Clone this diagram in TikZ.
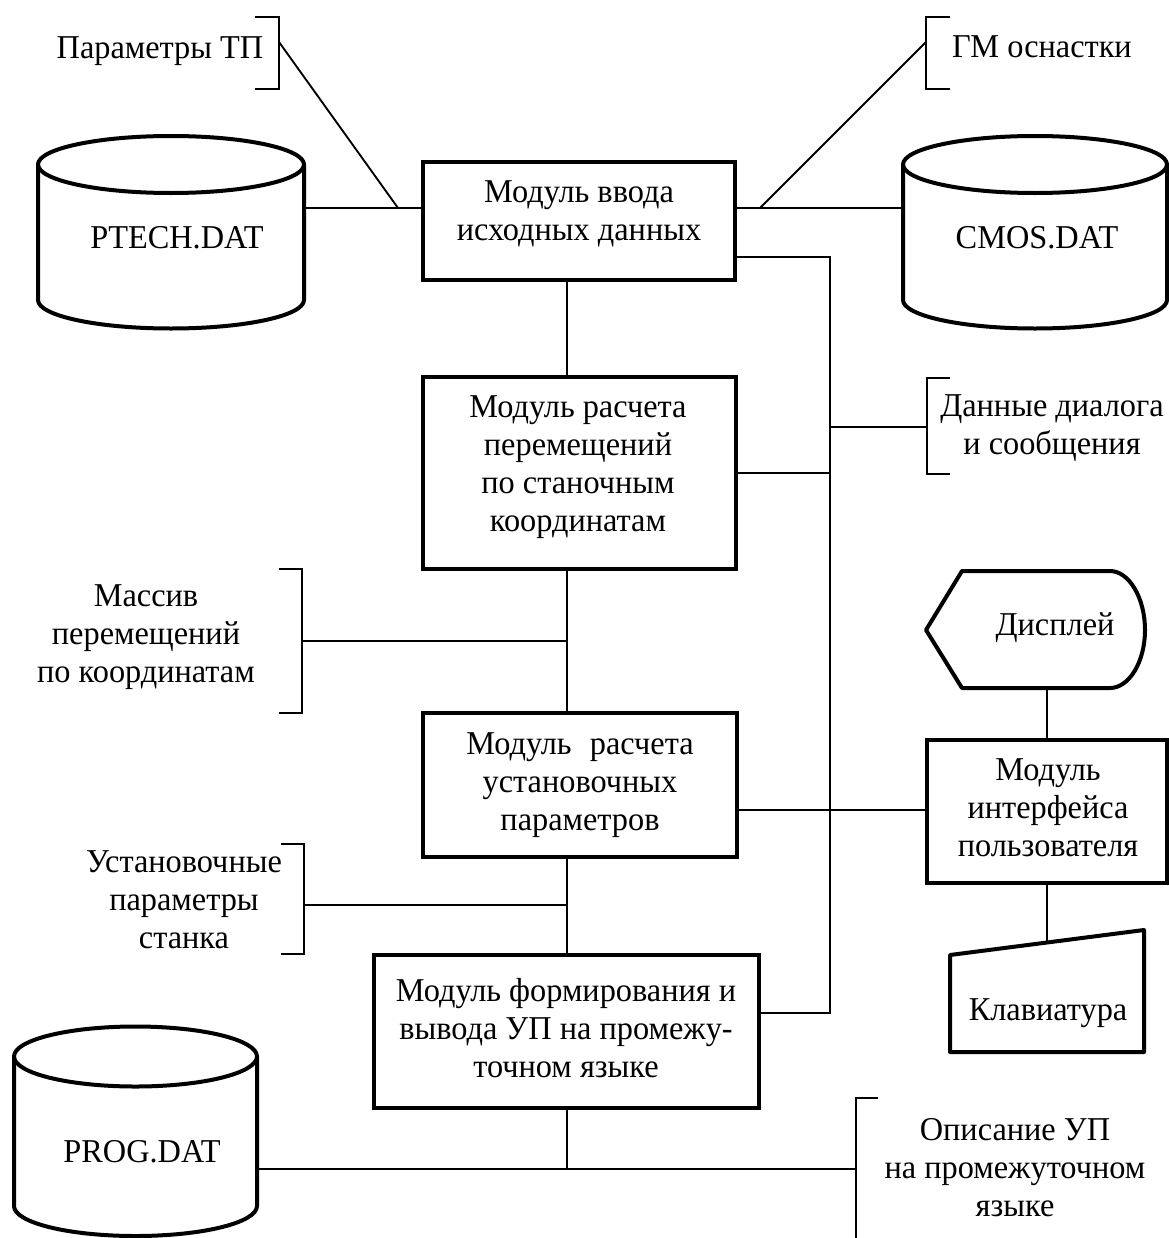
\documentclass[tikz,border=0pt]{standalone}
\usepackage{fontspec}
\setmainfont[FakeStretch=0.97]{Liberation Serif}
\begin{document}
\begin{tikzpicture}[x=0.75pt,y=-0.75pt,
  box/.style={draw,line width=3pt,inner sep=0pt},
  outline/.style={line width=3pt,line join=round},
  link/.style={line width=1.4pt},
  brk/.style={line width=1.6pt},
  lbl/.style={align=center,inner sep=0pt,font=\fontsize{25}{28.5}\selectfont}]
\useasboundingbox (0,0) rectangle (1169,1238);

% ---- processing modules ----
\node[box,minimum width=234pt,minimum height=88.5pt]   (b1) at (579,221)    {};
\node[box,minimum width=234.75pt,minimum height=144pt] (b2) at (579.5,473)  {};
\node[box,minimum width=235.5pt,minimum height=108pt]  (b3) at (580,785)    {};
\node[box,minimum width=288.75pt,minimum height=114.75pt] (b4) at (566.5,1031.5) {};
\node[box,minimum width=180pt,minimum height=107.25pt] (ui) at (1047,811.5) {};

\node[lbl] (b1t) at (579,214) {Модуль ввода\\исходных данных};
\node[lbl] (b2t) at (578,467) {Модуль расчета\\перемещений\\по станочным\\координатам};
\node[lbl] (b3t) at (580,785) {Модуль\hspace{0.55em}расчета\\установочных\\параметров};
\node[lbl] (b4t) at (566,1028) {Модуль формирования и\\вывода УП на промежу-\\точном языке};
\node[lbl] (uit) at (1048,808) {Модуль\\интерфейса\\пользователя};

% ---- data files (cylinders) ----
\draw[outline] (38,164.5) -- (38,300)
  arc[start angle=180,end angle=360,x radius=99.75pt,y radius=21.375pt] -- (304,164.5);
\draw[outline] (171,164.5) ellipse[x radius=99.75pt,y radius=21.375pt];
\node[lbl] (ptech) at (177,238) {PTECH.DAT};

\draw[outline] (903,164.5) -- (903,300)
  arc[start angle=180,end angle=360,x radius=99pt,y radius=21.375pt] -- (1167,164.5);
\draw[outline] (1035,164.5) ellipse[x radius=99pt,y radius=21.375pt];
\node[lbl] (cmos) at (1037,238) {CMOS.DAT};

\draw[outline] (14,1056.5) -- (14,1206)
  arc[start angle=180,end angle=360,x radius=91.125pt,y radius=22.5pt] -- (257,1056.5);
\draw[outline] (135.5,1056.5) ellipse[x radius=91.125pt,y radius=22.5pt];
\node[lbl] (prog) at (142,1152) {PROG.DAT};

% ---- display and keyboard ----
\draw[outline] (926,630) -- (962,571) -- (1110,571)
  .. controls (1129,571) and (1145,598) .. (1145,630)
  .. controls (1145,662) and (1129,688) .. (1110,688) -- (962,688) -- cycle;
\node[lbl] (disp) at (1055,628) {Дисплей};
\draw[outline] (950,955) -- (1144,930) -- (1144,1052) -- (950,1052) -- cycle;
\node[lbl] (kbd) at (1048,1013) {Клавиатура};

% ---- data annotations with brackets ----
\draw[brk] (255,17) -- (279,17) -- (279,89) -- (255,89);
\node[lbl] (ptp) at (160,51) {Параметры ТП};
\draw[brk] (950,17) -- (926,17) -- (926,89) -- (950,89);
\node[lbl] (gm) at (1042,47) {ГМ оснастки};
\draw[brk] (950,378) -- (927,378) -- (927,474) -- (950,474);
\node[lbl] (dlg) at (1052,428) {Данные диалога\\и сообщения};
\draw[brk] (279,569) -- (302,569) -- (302,713) -- (279,713);
\node[lbl] (mas) at (146,637) {Массив\\перемещений\\по координатам};
\draw[brk] (281,844) -- (304,844) -- (304,954) -- (281,954);
\node[lbl] (ust) at (184,900) {Установочные\\параметры\\станка};
\draw[brk] (878,1098) -- (856,1098) -- (856,1240);
\node[lbl] (opis) at (1015,1168) {Описание УП\\на промежуточном\\языке};

% ---- connection points ----
\coordinate (ptech-e) at (304,208);
\coordinate (cmos-w)  at (903,208);
\coordinate (prog-e)  at (257,1169);
\coordinate (disp-s)  at (1047,688);
\coordinate (kbd-n)   at (1047,942.5);
\coordinate (ptp-a)   at (279,42);
\coordinate (gm-a)    at (926,42);
\coordinate (dlg-a)   at (927,427);
\coordinate (mas-a)   at (302,641);
\coordinate (ust-a)   at (304,905);
\coordinate (opis-a)  at (856,1169);
\coordinate (jl)      at (398,208);
\coordinate (jr)      at (760,208);
\coordinate (bus-top) at (830,257);
\coordinate (bus-bot) at (830,1013);
\coordinate (spine)   at (567,0);

% ---- connectors ----
\draw[link] (ptech-e) -- (b1.west |- ptech-e);
\draw[link] (ptp-a) -- (jl);
\draw[link] (b1.east |- cmos-w) -- (cmos-w);
\draw[link] (gm-a) -- (jr);
\draw[link] (b1.east |- bus-top) -- (bus-top) -- (bus-bot) -- (b4.east |- bus-bot);
\draw[link] (b2.east |- 0,473) -- (bus-top |- 0,473);
\draw[link] (bus-top |- dlg-a) -- (dlg-a);
\draw[link] (b1.south -| spine) -- (b2.north -| spine);
\draw[link] (b2.south -| spine) -- (b3.north -| spine);
\draw[link] (mas-a) -- (spine |- mas-a);
\draw[link] (b3.east |- 0,810) -- (ui.west |- 0,810);
\draw[link] (b3.south -| spine) -- (b4.north -| spine);
\draw[link] (ust-a) -- (spine |- ust-a);
\draw[link] (b4.south -| spine) -- (spine |- prog-e);
\draw[link] (prog-e) -- (opis-a);
\draw[link] (disp-s) -- (ui.north);
\draw[link] (ui.south) -- (kbd-n);
\end{tikzpicture}
\end{document}
